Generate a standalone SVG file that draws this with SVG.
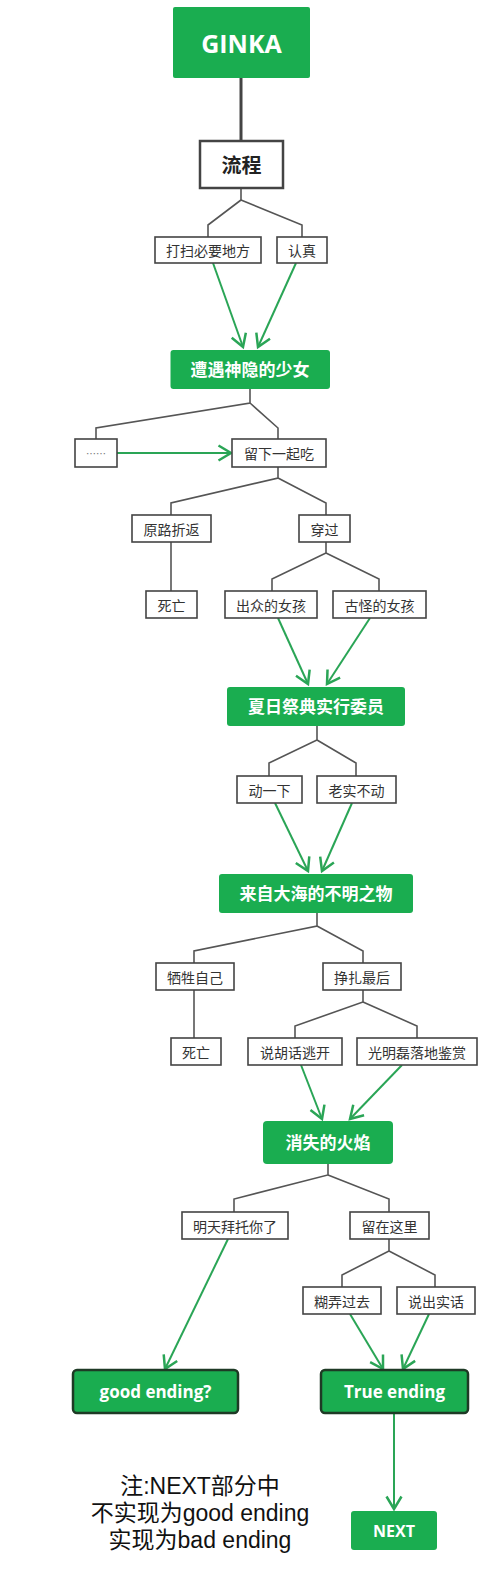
<svg xmlns="http://www.w3.org/2000/svg" width="499" height="1575" viewBox="0 0 499 1575">
<style>
.box{fill:#fff;stroke:#444;stroke-width:1.6}
.gbox{fill:#1aad50}
.ebox{fill:#1aad50;stroke:#1e3a25;stroke-width:2.5}
.t{font-family:"Noto Sans CJK SC","Open Sans",sans-serif;font-size:14px;fill:#333;text-anchor:middle;dominant-baseline:central}
.gt{font-family:"Open Sans","Noto Sans CJK SC",sans-serif;font-size:17px;font-weight:700;fill:#fff;text-anchor:middle;dominant-baseline:central}
.c{fill:none;stroke:#555;stroke-width:1.6}
.a{fill:none;stroke:#2aa556;stroke-width:2;marker-end:url(#ah)}
.note{font-family:"Liberation Sans","Noto Sans CJK SC",sans-serif;font-size:23px;fill:#111;text-anchor:middle}
</style>
<defs>
<marker id="ah" markerUnits="userSpaceOnUse" markerWidth="20" markerHeight="20" viewBox="-12 -8 14 16" refX="0" refY="0" orient="auto">
<path d="M-10,-6 L0,0 L-10,6" fill="none" stroke="#2aa556" stroke-width="2"/>
</marker>
</defs>
<rect width="499" height="1575" fill="#fff"/>
<g id="connectors">
<line x1="241" y1="78" x2="241" y2="141" stroke="#444" stroke-width="3"/>
<polyline class="c" points="241,188 241,200 208,225 208,237"/>
<polyline class="c" points="241,200 302,225 302,237"/>
<polyline class="c" points="250,389 250,403 96,428 96,439"/>
<polyline class="c" points="250,403 278,428 278,439"/>
<polyline class="c" points="278,467 278,478 171,503 171,515"/>
<polyline class="c" points="278,478 326,503 326,515"/>
<polyline class="c" points="171,542 171,591"/>
<polyline class="c" points="326,542 326,553 272,579 272,591"/>
<polyline class="c" points="326,553 379,579 379,591"/>
<polyline class="c" points="317,726 317,740 269,763 269,776"/>
<polyline class="c" points="317,740 356,763 356,776"/>
<polyline class="c" points="317,913 317,926 194,951 194,963"/>
<polyline class="c" points="317,926 363,951 363,963"/>
<polyline class="c" points="194,990 194,1038"/>
<polyline class="c" points="363,990 363,1002 295,1026 295,1038"/>
<polyline class="c" points="363,1002 417,1026 417,1038"/>
<polyline class="c" points="328,1164 328,1175 234,1199 234,1212"/>
<polyline class="c" points="328,1175 389,1199 389,1212"/>
<polyline class="c" points="389,1239 389,1251 342,1275 342,1287"/>
<polyline class="c" points="389,1251 435,1275 435,1287"/>
<line class="a" x1="213" y1="263" x2="243" y2="347"/>
<line class="a" x1="296" y1="263" x2="258" y2="347"/>
<line class="a" x1="117" y1="453" x2="231" y2="453"/>
<line class="a" x1="278" y1="618" x2="308" y2="684"/>
<line class="a" x1="370" y1="618" x2="327" y2="684"/>
<line class="a" x1="275" y1="803" x2="308" y2="871"/>
<line class="a" x1="352" y1="803" x2="322" y2="871"/>
<line class="a" x1="301" y1="1065" x2="322" y2="1119"/>
<line class="a" x1="402" y1="1065" x2="350" y2="1119"/>
<line class="a" x1="228" y1="1239" x2="165" y2="1369"/>
<line class="a" x1="350" y1="1314" x2="383" y2="1369"/>
<line class="a" x1="429" y1="1314" x2="403" y2="1369"/>
<line class="a" x1="394" y1="1413" x2="394" y2="1509"/>
</g>
<g id="n-ginka"><rect class="gbox" x="173" y="7" width="137" height="71" rx="2"/><text class="gt" x="241.5" y="43" style="font-size:25px">GINKA</text></g>
<g id="n-liucheng"><rect x="200" y="141" width="83" height="47" fill="#fff" stroke="#444" stroke-width="2.5"/><text class="t" x="241.5" y="164.5" style="font-size:20px;font-weight:700;fill:#222">流程</text></g>
<g id="n-dasao"><rect class="box" x="155" y="237" width="106" height="26"/><text class="t" x="208" y="250">打扫必要地方</text></g>
<g id="n-renzhen"><rect class="box" x="277" y="237" width="50" height="26"/><text class="t" x="302" y="250">认真</text></g>
<g id="n-zaoyu"><rect class="gbox" x="170.5" y="350" width="159.5" height="39" rx="3"/><text class="gt" x="250" y="369.5">遭遇神隐的少女</text></g>
<g id="n-dots"><rect class="box" x="75" y="439" width="42" height="28"/><text class="t" x="96" y="453" style="font-size:10px;fill:#777">……</text></g>
<g id="n-liuxia"><rect class="box" x="232" y="439" width="94" height="28"/><text class="t" x="279" y="453">留下一起吃</text></g>
<g id="n-yuanlu"><rect class="box" x="132" y="515" width="79" height="27"/><text class="t" x="171.5" y="528.5">原路折返</text></g>
<g id="n-chuanguo"><rect class="box" x="299" y="515" width="51" height="27"/><text class="t" x="324.5" y="528.5">穿过</text></g>
<g id="n-siwang1"><rect class="box" x="146" y="591" width="51" height="27"/><text class="t" x="171.5" y="604.5">死亡</text></g>
<g id="n-chuzhong"><rect class="box" x="225" y="591" width="92" height="27"/><text class="t" x="271" y="604.5">出众的女孩</text></g>
<g id="n-guguai"><rect class="box" x="333" y="591" width="93" height="27"/><text class="t" x="379.5" y="604.5">古怪的女孩</text></g>
<g id="n-xiari"><rect class="gbox" x="227" y="687" width="178" height="39" rx="3"/><text class="gt" x="316" y="706.5">夏日祭典实行委员</text></g>
<g id="n-dongyixia"><rect class="box" x="237" y="776" width="65" height="27"/><text class="t" x="269.5" y="789.5">动一下</text></g>
<g id="n-laoshi"><rect class="box" x="317" y="776" width="79" height="27"/><text class="t" x="356.5" y="789.5">老实不动</text></g>
<g id="n-laizi"><rect class="gbox" x="219" y="874" width="194" height="39" rx="3"/><text class="gt" x="316" y="893.5">来自大海的不明之物</text></g>
<g id="n-xisheng"><rect class="box" x="156" y="963" width="78" height="27"/><text class="t" x="195" y="976.5">牺牲自己</text></g>
<g id="n-zhengzha"><rect class="box" x="323" y="963" width="78" height="27"/><text class="t" x="362" y="976.5">挣扎最后</text></g>
<g id="n-siwang2"><rect class="box" x="171" y="1038" width="50" height="27"/><text class="t" x="196" y="1051.5">死亡</text></g>
<g id="n-shuohuhua"><rect class="box" x="248" y="1038" width="94" height="27"/><text class="t" x="295" y="1051.5">说胡话逃开</text></g>
<g id="n-guangming"><rect class="box" x="357" y="1038" width="120" height="27"/><text class="t" x="417" y="1051.5">光明磊落地鉴赏</text></g>
<g id="n-xiaoshi"><rect class="gbox" x="263" y="1121" width="130" height="43" rx="4"/><text class="gt" x="328" y="1142.5">消失的火焰</text></g>
<g id="n-mingtian"><rect class="box" x="182" y="1212" width="106" height="27"/><text class="t" x="235" y="1225.5">明天拜托你了</text></g>
<g id="n-liuzai"><rect class="box" x="350" y="1212" width="79" height="27"/><text class="t" x="389.5" y="1225.5">留在这里</text></g>
<g id="n-hunong"><rect class="box" x="303" y="1287" width="78" height="27"/><text class="t" x="342" y="1300.5">糊弄过去</text></g>
<g id="n-shuochu"><rect class="box" x="397" y="1287" width="78" height="27"/><text class="t" x="436" y="1300.5">说出实话</text></g>
<g id="n-good"><rect class="ebox" x="73" y="1370" width="165" height="43" rx="4"/><text class="gt" x="155.5" y="1391.5">good ending?</text></g>
<g id="n-true"><rect class="ebox" x="321" y="1370" width="147" height="43" rx="4"/><text class="gt" x="394.5" y="1391.5">True ending</text></g>
<g id="n-next"><rect class="gbox" x="351" y="1511" width="86" height="39" rx="3"/><text class="gt" x="394" y="1530.5" style="font-size:16px">NEXT</text></g>
<g id="note">
<text class="note" x="200" y="1494">注:NEXT部分中</text>
<text class="note" x="200" y="1521">不实现为good ending</text>
<text class="note" x="200" y="1548">实现为bad ending</text>
</g>
</svg>
